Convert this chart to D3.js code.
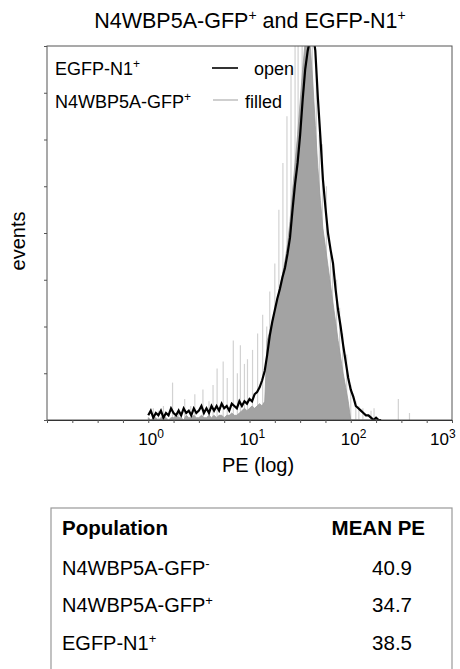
<!DOCTYPE html>
<html>
<head>
<meta charset="utf-8">
<script src="https://cdn.jsdelivr.net/npm/d3@7"></script>
<style>
  body { margin: 0; background: #fff; }
  svg { font-family: "Liberation Sans", Arial, sans-serif; }
</style>
</head>
<body>
<div id="chart"></div>
<script>
// histogram channels: log10(PE) of each bin, 0.025 decade wide, from 10^0
const binLog = d3.range(93).map(i => i * 0.025);

// EGFP-N1+ (open, black)
const egfpCounts = [
  2, 4, 1, 3, 2, 4, 1, 3, 2, 5, 3, 2, 4, 2, 5, 3, 4, 2, 5, 3,
  4, 6, 3, 5, 3, 6, 4, 6, 4, 7, 5, 6, 4, 7, 6, 5, 8, 6, 8, 7,
  9, 8, 11, 12, 14, 17, 21, 28, 36, 42, 47, 52, 56, 61, 65, 71, 78, 90, 101, 110,
  122, 137, 150, 158, 163, 166, 158, 138, 121, 103, 91, 80, 73, 67, 56, 47, 40, 32, 25, 18,
  13, 10, 6, 5, 4, 3, 2, 2, 1, 0, 1, 0, 0
];

// N4WBP5A-GFP+ (filled, grey)
const n4Counts = [
  1, 0, 1, 1, 0, 1, 2, 1, 0, 1, 1, 2, 1, 1, 0, 2, 1, 1, 2, 1,
  1, 2, 1, 1, 2, 1, 2, 1, 2, 2, 1, 2, 2, 3, 2, 2, 3, 4, 5, 4,
  5, 6, 5, 6, 7, 6, 8, 34, 38, 42, 47, 52, 57, 62, 68, 75, 85, 98, 110, 122,
  136, 150, 162, 166, 160, 145, 126, 108, 94, 82, 74, 66, 58, 50, 42, 34, 27, 20, 14, 8,
  0, 0, 0, 0, 0, 0, 0, 0, 0, 0, 0, 0, 0
];

// single-channel spikes of the filled histogram [log10(PE), events]
const n4Spikes = [
  [0.05, 5], [0.10, 4], [0.15, 6], [0.24, 16], [0.30, 5], [0.36, 9], [0.42, 6], [0.46, 11],
  [0.54, 13], [0.60, 8], [0.64, 15], [0.68, 22], [0.74, 25], [0.78, 18], [0.84, 34], [0.88, 20],
  [0.91, 32], [0.95, 24], [0.98, 26], [1.03, 30], [1.08, 37], [1.13, 45], [1.17, 40], [1.20, 55],
  [1.25, 67], [1.29, 90], [1.33, 110], [1.37, 130], [1.41, 150], [1.45, 170], [1.48, 175], [1.52, 175],
  [1.56, 175], [1.62, 175], [1.66, 150], [1.69, 122], [1.72, 118], [1.76, 100], [1.80, 75], [1.82, 66],
  [1.86, 60], [1.89, 48], [1.92, 37], [1.96, 28], [2.00, 15], [2.05, 8], [2.08, 6], [2.12, 5],
  [2.20, 4], [2.23, 5], [2.47, 9], [2.58, 3]
];

const xTickLogs = d3.range(17).map(i => -1 + i * 0.25);
const decadeExps = ["0", "1", "2", "3"];
const yTicks = [0, 20, 40, 60, 80, 100, 120, 140, 160];

const populations = ["N4WBP5A-GFP", "N4WBP5A-GFP", "EGFP-N1"];
const popSigns = ["-", "+", "+"];
const meanPE = [40.9, 34.7, 38.5];

const width = 460, height = 669;
const plotL = 47, plotR = 452, plotT = 46, plotB = 420;

const svg = d3.select("#chart").append("svg")
  .attr("width", width)
  .attr("height", height);

const x = d3.scaleLog().domain([0.1, 1000]).range([plotL, plotR]);
const y = d3.scaleLinear().domain([0, 160]).range([plotB, plotT]);

// title
const title = svg.append("text")
  .attr("x", 250).attr("y", 28)
  .attr("text-anchor", "middle")
  .style("font-size", "21.5px");
title.append("tspan").text("N4WBP5A-GFP");
title.append("tspan").attr("dy", -8).style("font-size", "14px").text("+");
title.append("tspan").attr("dy", 8).text(" and EGFP-N1");
title.append("tspan").attr("dy", -8).style("font-size", "14px").text("+");

svg.append("clipPath").attr("id", "plot-clip")
  .append("rect")
  .attr("x", plotL).attr("y", plotT)
  .attr("width", plotR - plotL).attr("height", plotB - plotT);

const plot = svg.append("g").attr("clip-path", "url(#plot-clip)");

// grey filled histogram
plot.selectAll("line.spike")
  .data(n4Spikes)
  .enter()
  .append("line")
  .attr("class", "spike")
  .attr("x1", d => x(Math.pow(10, d[0])))
  .attr("x2", d => x(Math.pow(10, d[0])))
  .attr("y1", y(0))
  .attr("y2", d => y(d[1]))
  .attr("stroke", "#d2d2d2")
  .attr("stroke-width", 1.2);

const area = d3.area()
  .x((d, i) => x(Math.pow(10, binLog[i])))
  .y0(y(0))
  .y1(d => y(d));

plot.append("path")
  .datum(n4Counts)
  .attr("d", area)
  .attr("fill", "#a3a3a3")
  .attr("stroke", "#9a9a9a")
  .attr("stroke-width", 0.8);

// black open histogram
const line = d3.line()
  .x((d, i) => x(Math.pow(10, binLog[i])))
  .y(d => y(d));

plot.append("path")
  .datum(egfpCounts)
  .attr("d", line)
  .attr("fill", "none")
  .attr("stroke", "#000")
  .attr("stroke-width", 2.2);

// frame
svg.append("rect")
  .attr("x", plotL).attr("y", plotT)
  .attr("width", plotR - plotL).attr("height", plotB - plotT)
  .attr("fill", "none")
  .attr("stroke", "#555")
  .attr("stroke-width", 1);

// axes
const xAxis = svg.append("g")
  .attr("transform", `translate(0,${plotB})`)
  .call(d3.axisBottom(x)
    .tickValues(xTickLogs.map(l => Math.pow(10, l)))
    .tickSize(3)
    .tickFormat(""));
xAxis.select(".domain").attr("stroke", "#333");
xAxis.selectAll(".tick line").attr("stroke", "#555");

const yAxis = svg.append("g")
  .attr("transform", `translate(${plotL},0)`)
  .call(d3.axisLeft(y).tickValues(yTicks).tickSize(3).tickFormat(""));
yAxis.select(".domain").remove();
yAxis.selectAll(".tick line").attr("stroke", "#555");

// decade labels; the last one is pulled inside the window
const decLabels = svg.selectAll("text.dec")
  .data(decadeExps)
  .enter()
  .append("text")
  .attr("class", "dec")
  .attr("x", d => Math.min(x(Math.pow(10, +d)) - 10, 430))
  .attr("y", 445)
  .style("font-size", "17px");
decLabels.append("tspan").text("10");
decLabels.append("tspan").attr("dy", -7).style("font-size", "12px").text(d => d);

svg.append("text")
  .attr("x", 258).attr("y", 472)
  .attr("text-anchor", "middle")
  .style("font-size", "20px")
  .text("PE (log)");

svg.append("text")
  .attr("transform", "translate(25,241) rotate(-90)")
  .attr("text-anchor", "middle")
  .style("font-size", "20px")
  .text("events");

// legend
const lg1 = svg.append("text").attr("x", 55).attr("y", 75).style("font-size", "18px");
lg1.append("tspan").text("EGFP-N1");
lg1.append("tspan").attr("dy", -7).style("font-size", "12px").text("+");
svg.append("line").attr("x1", 212).attr("x2", 238).attr("y1", 68).attr("y2", 68)
  .attr("stroke", "#000").attr("stroke-width", 1.6);
svg.append("text").attr("x", 254).attr("y", 75).style("font-size", "18px").text("open");

const lg2 = svg.append("text").attr("x", 55).attr("y", 108).style("font-size", "18px");
lg2.append("tspan").text("N4WBP5A-GFP");
lg2.append("tspan").attr("dy", -7).style("font-size", "12px").text("+");
svg.append("line").attr("x1", 213).attr("x2", 238).attr("y1", 100).attr("y2", 100)
  .attr("stroke", "#c4c4c4").attr("stroke-width", 1.6);
svg.append("text").attr("x", 245).attr("y", 108).style("font-size", "18px").text("filled");

// table
svg.append("rect")
  .attr("x", 51).attr("y", 508)
  .attr("width", 401).attr("height", 200)
  .attr("fill", "none")
  .attr("stroke", "#999")
  .attr("stroke-width", 1.2);

svg.append("text").attr("x", 62).attr("y", 535)
  .style("font-size", "20.5px").style("font-weight", "bold").text("Population");
svg.append("text").attr("x", 425).attr("y", 535).attr("text-anchor", "end")
  .style("font-size", "20.5px").style("font-weight", "bold").text("MEAN PE");

const rowY = d3.scaleBand().domain(d3.range(populations.length)).range([556, 668]);

const rows = svg.selectAll("g.row")
  .data(populations)
  .enter()
  .append("g")
  .attr("class", "row");

const popText = rows.append("text")
  .attr("x", 62)
  .attr("y", (d, i) => rowY(i) + 19)
  .style("font-size", "20px");
popText.append("tspan").text(d => d);
popText.append("tspan").attr("dy", -7).style("font-size", "13px").text((d, i) => popSigns[i]);

rows.append("text")
  .attr("x", 412)
  .attr("y", (d, i) => rowY(i) + 19)
  .attr("text-anchor", "end")
  .style("font-size", "20.5px")
  .text((d, i) => meanPE[i].toFixed(1));
</script>
</body>
</html>
